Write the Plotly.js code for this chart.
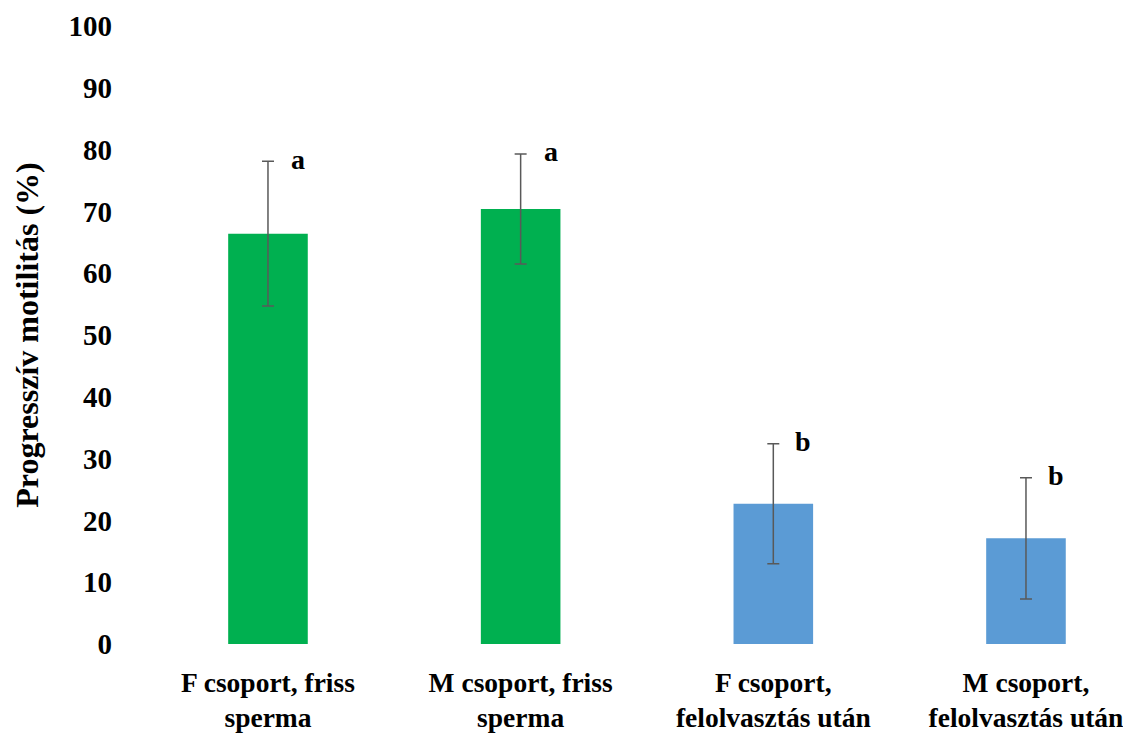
<!DOCTYPE html>
<html>
<head>
<meta charset="utf-8">
<script src="https://cdn.plot.ly/plotly-3.0.1.min.js"></script>
<style>html,body{margin:0;padding:0;background:#fff;}#chart{width:1123px;height:733px;}</style>
</head>
<body>
<div id="chart"></div>
<script>
const categories = ["F csoport, friss<br>sperma", "M csoport, friss<br>sperma", "F csoport,<br>felolvasztás után", "M csoport,<br>felolvasztás után"];
const values = [66.4, 70.4, 22.7, 17.1];
const errors = [11.7, 8.9, 9.7, 9.8];
const letters = ["a", "a", "b", "b"];
const colors = ["#00B050", "#00B050", "#5B9BD5", "#5B9BD5"];
const yTicks = [0, 10, 20, 30, 40, 50, 60, 70, 80, 90, 100];

const font = "Liberation Serif, Times New Roman, serif";

const trace = {
  type: "bar",
  x: [0, 1, 2, 3],
  y: values,
  width: 0.315,
  marker: {color: colors},
  error_y: {type: "data", array: errors, visible: true, color: "#595959", thickness: 1.5, width: 6},
  hoverinfo: "none"
};

const annotations = values.map((v, i) => ({
  x: i, y: v + errors[i], xref: "x", yref: "y",
  text: "<b>" + letters[i] + "</b>", showarrow: false,
  xshift: 30, yshift: 2,
  font: {family: font, size: 28, color: "#000"}
}));

const layout = {
  width: 1123, height: 733,
  margin: {l: 142, r: 0, t: 26, b: 89},
  paper_bgcolor: "#fff", plot_bgcolor: "#fff",
  showlegend: false,
  xaxis: {
    range: [-0.4986, 3.384],
    tickvals: [0, 1, 2, 3], ticktext: categories,
    showgrid: false, zeroline: false, showline: false, ticks: "",
    tickfont: {family: font, size: 27.5, color: "#000", weight: "bold"},
    ticklabelstandoff: 19,
    ticklabeloverflow: "allow"
  },
  yaxis: {
    range: [0, 100],
    tickvals: yTicks, ticktext: yTicks.map(String),
    showgrid: false, zeroline: false, showline: false, ticks: "",
    tickfont: {family: font, size: 29, color: "#000", weight: "bold"},
    ticklabelstandoff: 29,
    title: {text: "<b>Progresszív motilitás (%)</b>", font: {family: font, size: 32, color: "#000"}, standoff: 20}
  },
  annotations: annotations
};

Plotly.newPlot("chart", [trace], layout, {displayModeBar: false, staticPlot: true});
</script>
</body>
</html>
